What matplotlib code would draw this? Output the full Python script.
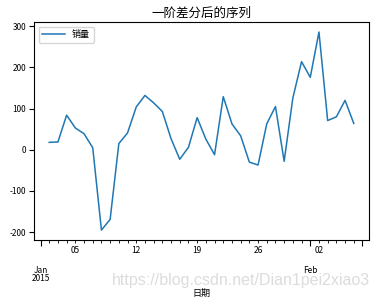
import matplotlib
matplotlib.use("Agg")
import matplotlib.pyplot as plt
import pandas as pd

plt.rcParams['font.family'] = ['Noto Sans CJK SC', 'DejaVu Sans']
plt.rcParams['axes.unicode_minus'] = False

start_date = "2015-01-02"
series_name = "销量"
index_name = "日期"
title = "一阶差分后的序列"
values = [18, 19, 84, 53, 39, 5, -195, -169, 15, 41, 104, 132, 114, 93, 27, -23,
          6, 78, 26, -12, 129, 63, 34, -30, -37, 63, 105, -28, 126, 214, 176, 286,
          71, 80, 120, 64]

idx = pd.date_range(start_date, periods=len(values), freq="D", name=index_name)
s = pd.Series(values, index=idx, name=series_name)

fig = plt.figure(figsize=(3.79, 3.03), dpi=100)
ax = fig.add_axes([0.0897, 0.208, 0.8839, 0.719])
s.plot(ax=ax, color="#1f77b4", linewidth=1.1)
x0, x1 = ax.get_xlim()
m = 0.05 * (x1 - x0)
ax.set_xlim(x0 - m, x1 + m)
ax.set_title(title, fontsize=9, pad=4)
ax.set_xlabel(index_name, fontsize=6.5, labelpad=4)
ax.legend(loc="upper left", fontsize=6.5, handlelength=2.5)
ax.tick_params(axis="both", which="both", labelsize=6, pad=2)
ax.tick_params(axis="x", which="major", length=4)
ax.tick_params(axis="x", which="minor", length=2)
ax.set_yticks([-200, -100, 0, 100, 200, 300])

fig.canvas.draw()
for t in ax.xaxis.get_major_ticks() + ax.xaxis.get_minor_ticks():
    t.label1.set_linespacing(0.95)

fig.text(0.637, 0.075, "https://blog.csdn.net/Dian1pei2xiao3", fontsize=11.5,
         color="#dcdcdc", ha="center", va="center", family="Liberation Sans",
         zorder=0)

fig.savefig("out.png", dpi=100)
